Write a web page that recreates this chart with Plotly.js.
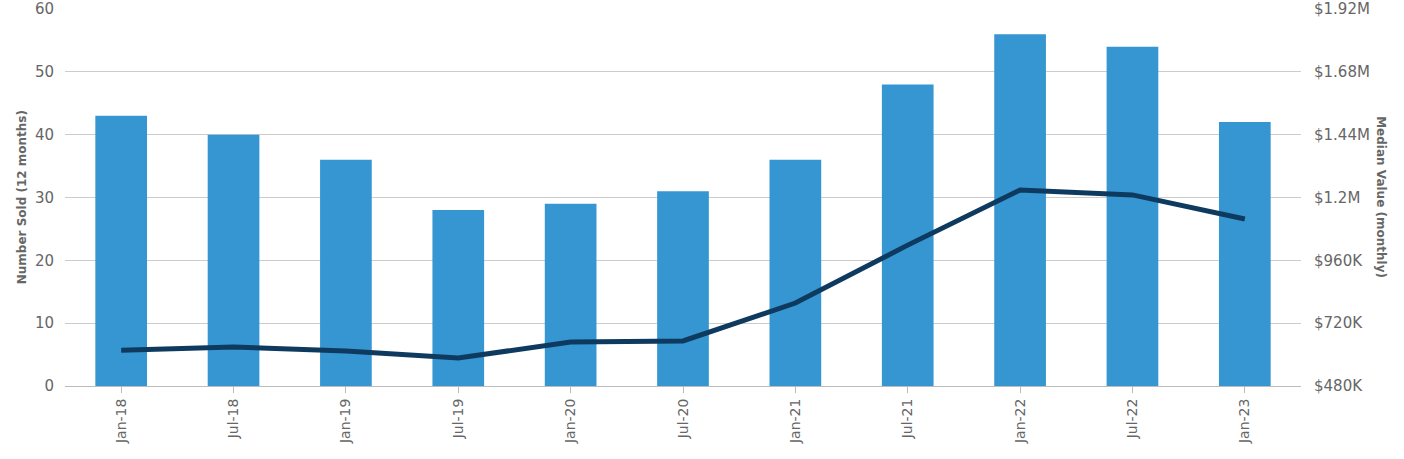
<!DOCTYPE html>
<html>
<head>
<meta charset="utf-8">
<script src="https://cdn.plot.ly/plotly-3.0.1.min.js"></script>
<style>html,body{margin:0;padding:0;background:#fff;}#chart{width:1404px;height:459px;}</style>
</head>
<body>
<div id="chart"></div>
<script>
const categories = ["Jan-18","Jul-18","Jan-19","Jul-19","Jan-20","Jul-20","Jan-21","Jul-21","Jan-22","Jul-22","Jan-23"];
const numberSold = [43, 40, 36, 28, 29, 31, 36, 48, 56, 54, 42];
const medianValue = [617000, 629000, 614000, 587000, 648000, 652000, 797000, 1018000, 1229000, 1210000, 1118000];
const leftTicks = [0, 10, 20, 30, 40, 50, 60];
const rightTickVals = [480000, 720000, 960000, 1200000, 1440000, 1680000, 1920000];
const rightTickText = ["$480K","$720K","$960K","$1.2M","$1.44M","$1.68M","$1.92M"];

const font = "DejaVu Sans, sans-serif";
const traces = [
  {type:"bar", x:categories, y:numberSold, marker:{color:"#3596d2"}, yaxis:"y", hoverinfo:"skip"},
  {type:"scatter", mode:"lines", x:categories, y:medianValue, yaxis:"y2",
   line:{color:"#0f3a5f", width:5}, hoverinfo:"skip"}
];
const layout = {
  width:1404, height:459,
  margin:{l:65, r:103, t:9, b:73},
  paper_bgcolor:"#fff", plot_bgcolor:"#fff",
  showlegend:false,
  bargap:0.54,
  font:{family:font, color:"#666"},
  xaxis:{type:"category", tickangle:-90, tickfont:{size:14, color:"#666", family:font},
         ticks:"outside", ticklen:6, tickcolor:"#bbb", showline:true, linecolor:"#bbb", linewidth:1,
         showgrid:false},
  yaxis:{range:[0,60], tickvals:leftTicks, tickfont:{size:15, color:"#666", family:font},
         gridcolor:"#ccc", gridwidth:1, zeroline:false, ticks:"", ticklabelstandoff:10},
  yaxis2:{overlaying:"y", side:"right", range:[480000,1920000], tickvals:rightTickVals, ticktext:rightTickText,
          tickfont:{size:15, color:"#666", family:font}, showgrid:false, zeroline:false, ticklabelstandoff:12},
  annotations:[
    {text:"Number Sold (12 months)", xref:"paper", yref:"paper", x:-0.035, y:0.5, textangle:-90,
     showarrow:false, font:{size:12, color:"#666", family:font, weight:"bold"}, xanchor:"center", yanchor:"middle"},
    {text:"Median Value (monthly)", xref:"paper", yref:"paper", x:1.065, y:0.5, textangle:90,
     showarrow:false, font:{size:12, color:"#666", family:font, weight:"bold"}, xanchor:"center", yanchor:"middle"}
  ]
};
Plotly.newPlot("chart", traces, layout, {displayModeBar:false, staticPlot:true});
</script>
</body>
</html>
